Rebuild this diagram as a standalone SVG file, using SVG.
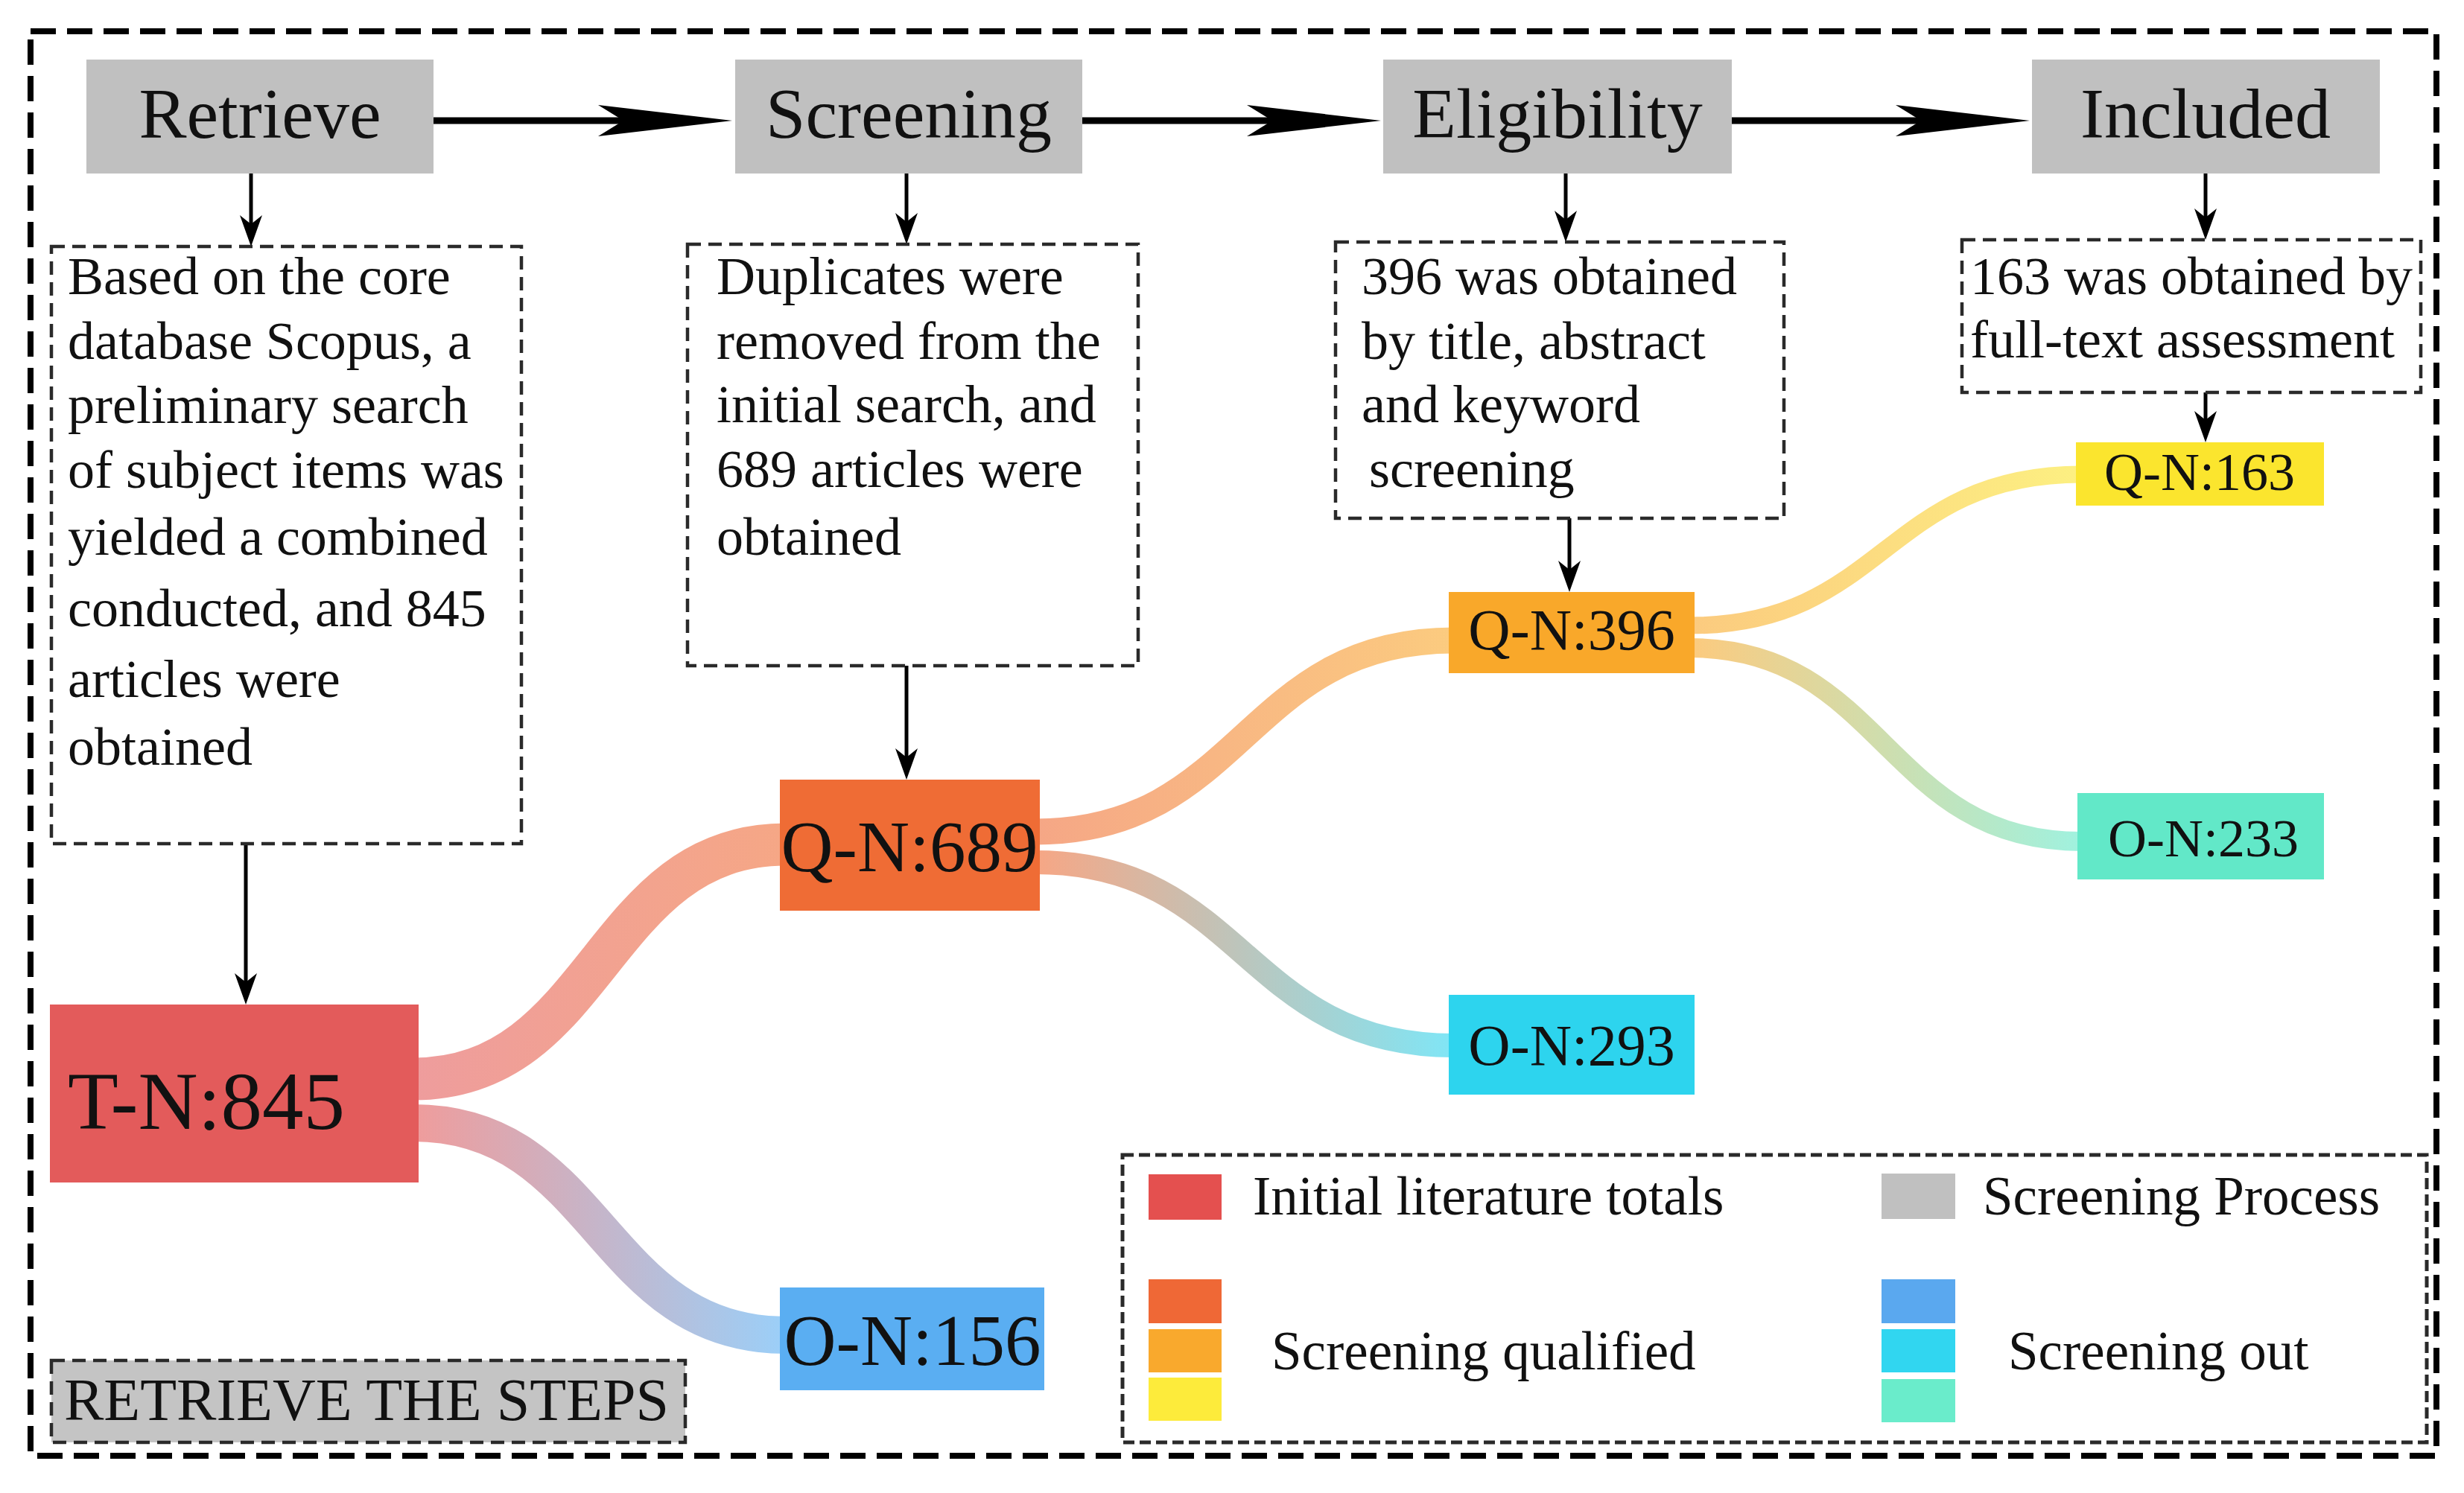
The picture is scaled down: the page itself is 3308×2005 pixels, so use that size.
<svg xmlns="http://www.w3.org/2000/svg" width="3308" height="2005" viewBox="0 0 3308 2005">
<style>
text{font-family:"Liberation Serif","Times New Roman",serif;fill:#111}
.hdr{fill:#c0c0c0}
.hdrt{font-size:96px;text-anchor:middle}
.note{fill:none;stroke:#2a2a2a;stroke-width:4.5;stroke-dasharray:18 10}
.nt{font-size:72px}
.nd{text-anchor:middle}
.flow{fill:none;stroke-opacity:0.6}
.harrow{stroke:#000;stroke-width:9;fill:none}
.varrow{stroke:#000;stroke-width:5;fill:none}
.lg{font-size:73px}
</style>
<defs>
<marker id="bigHead" markerUnits="userSpaceOnUse" markerWidth="180" markerHeight="42" refX="60" refY="21" orient="auto" overflow="visible">
<path d="M0,0 L180,21 L0,42 L34,21 Z" fill="#000"/>
</marker>
<marker id="smallHead" markerUnits="userSpaceOnUse" markerWidth="42" markerHeight="30" refX="20" refY="15" orient="auto" overflow="visible">
<path d="M0,0 L42,15 L0,30 L12,15 Z" fill="#000"/>
</marker>
<linearGradient id="g1" gradientUnits="userSpaceOnUse" x1="562" y1="0" x2="1047" y2="0"><stop offset="0" stop-color="#e35b5b"/><stop offset="1" stop-color="#ef6c35"/></linearGradient>
<linearGradient id="g2" gradientUnits="userSpaceOnUse" x1="562" y1="0" x2="1047" y2="0"><stop offset="0" stop-color="#e35b5b"/><stop offset="1" stop-color="#5aaef2"/></linearGradient>
<linearGradient id="g3" gradientUnits="userSpaceOnUse" x1="1396" y1="0" x2="1945" y2="0"><stop offset="0" stop-color="#ef6c35"/><stop offset="1" stop-color="#f9a82a"/></linearGradient>
<linearGradient id="g4" gradientUnits="userSpaceOnUse" x1="1396" y1="0" x2="1945" y2="0"><stop offset="0" stop-color="#ef6c35"/><stop offset="1" stop-color="#2dd4ee"/></linearGradient>
<linearGradient id="g5" gradientUnits="userSpaceOnUse" x1="2275" y1="0" x2="2787" y2="0"><stop offset="0" stop-color="#f9a82a"/><stop offset="1" stop-color="#fbe52e"/></linearGradient>
<linearGradient id="g6" gradientUnits="userSpaceOnUse" x1="2275" y1="0" x2="2789" y2="0"><stop offset="0" stop-color="#f9a82a"/><stop offset="1" stop-color="#62e8c8"/></linearGradient>
</defs>
<rect width="3308" height="2005" fill="#fff"/>
<rect id="frame" x="41" y="42" width="3230" height="1913" fill="none" stroke="#000" stroke-width="8" stroke-dasharray="34 15"/>

<g id="connectors">
<path class="flow" d="M555,1449 C805,1449 805,1134 1055,1134" stroke="url(#g1)" stroke-width="57"/>
<path class="flow" d="M555,1508 C805,1508 805,1793 1055,1793" stroke="url(#g2)" stroke-width="50"/>
<path class="flow" d="M1390,1117 C1670,1117 1670,860 1952,860" stroke="url(#g3)" stroke-width="35"/>
<path class="flow" d="M1390,1158 C1670,1158 1670,1404 1952,1404" stroke="url(#g4)" stroke-width="32"/>
<path class="flow" d="M2268,840 C2530,840 2530,637 2795,637" stroke="url(#g5)" stroke-width="23"/>
<path class="flow" d="M2268,870 C2530,870 2530,1130 2795,1130" stroke="url(#g6)" stroke-width="26"/>
<line class="harrow" x1="582" y1="162" x2="863" y2="162" marker-end="url(#bigHead)"/>
<line class="harrow" x1="1453" y1="162" x2="1734" y2="162" marker-end="url(#bigHead)"/>
<line class="harrow" x1="2325" y1="162" x2="2605" y2="162" marker-end="url(#bigHead)"/>
<line class="varrow" x1="337" y1="233" x2="337" y2="309" marker-end="url(#smallHead)"/>
<line class="varrow" x1="330" y1="1133" x2="330" y2="1327" marker-end="url(#smallHead)"/>
<line class="varrow" x1="1217" y1="233" x2="1217" y2="306" marker-end="url(#smallHead)"/>
<line class="varrow" x1="1217" y1="894" x2="1217" y2="1025" marker-end="url(#smallHead)"/>
<line class="varrow" x1="2102" y1="233" x2="2102" y2="303" marker-end="url(#smallHead)"/>
<line class="varrow" x1="2107" y1="696" x2="2107" y2="773" marker-end="url(#smallHead)"/>
<line class="varrow" x1="2961" y1="233" x2="2961" y2="300" marker-end="url(#smallHead)"/>
<line class="varrow" x1="2961" y1="527" x2="2961" y2="572" marker-end="url(#smallHead)"/>
</g>

<g id="step-retrieve"><rect class="hdr" x="116" y="80" width="466" height="153"/><text class="hdrt" x="349" y="185">Retrieve</text></g>
<g id="step-screening"><rect class="hdr" x="987" y="80" width="466" height="153"/><text class="hdrt" x="1220" y="185">Screening</text></g>
<g id="step-eligibility"><rect class="hdr" x="1857" y="80" width="468" height="153"/><text class="hdrt" x="2091" y="185">Eligibility</text></g>
<g id="step-included"><rect class="hdr" x="2728" y="80" width="467" height="153"/><text class="hdrt" x="2961" y="185">Included</text></g>

<g id="note-retrieve">
<rect class="note" x="69" y="331" width="631" height="802"/>
<text class="nt" x="91" y="395">Based on the core</text>
<text class="nt" x="91" y="482">database Scopus, a</text>
<text class="nt" x="91" y="568">preliminary search</text>
<text class="nt" x="91" y="655">of subject items was</text>
<text class="nt" x="91" y="745">yielded a combined</text>
<text class="nt" x="91" y="841">conducted, and 845</text>
<text class="nt" x="91" y="936">articles were</text>
<text class="nt" x="91" y="1027">obtained</text>
</g>
<g id="note-screening">
<rect class="note" x="923" y="328" width="605" height="566"/>
<text class="nt" x="962" y="395">Duplicates were</text>
<text class="nt" x="962" y="482">removed from the</text>
<text class="nt" x="962" y="567">initial search, and</text>
<text class="nt" x="962" y="654">689 articles were</text>
<text class="nt" x="962" y="745">obtained</text>
</g>
<g id="note-eligibility">
<rect class="note" x="1793" y="325" width="602" height="371"/>
<text class="nt" x="1828" y="395">396 was obtained</text>
<text class="nt" x="1828" y="482">by title, abstract</text>
<text class="nt" x="1828" y="567">and keyword</text>
<text class="nt" x="1838" y="654">screening</text>
</g>
<g id="note-included">
<rect class="note" x="2634" y="322" width="616" height="205"/>
<text class="nt" x="2645" y="395">163 was obtained by</text>
<text class="nt" x="2645" y="480">full-text assessment</text>
</g>

<g id="node-tn845"><rect x="67" y="1349" width="495" height="239" fill="#e35b5b"/><text x="91" y="1516" font-size="111">T-N:845</text></g>
<g id="node-qn689"><rect x="1047" y="1047" width="349" height="176" fill="#ef6c35"/><text class="nd" x="1221" y="1170" font-size="97">Q-N:689</text></g>
<g id="node-on156"><rect x="1047" y="1729" width="355" height="138" fill="#5aaef2"/><text class="nd" x="1225" y="1833" font-size="97">O-N:156</text></g>
<g id="node-qn396"><rect x="1945" y="795" width="330" height="109" fill="#f9a82a"/><text class="nd" x="2110" y="872" font-size="78">Q-N:396</text></g>
<g id="node-on293"><rect x="1945" y="1336" width="330" height="134" fill="#2dd4ee"/><text class="nd" x="2110" y="1430" font-size="78">O-N:293</text></g>
<g id="node-qn163"><rect x="2787" y="594" width="333" height="85" fill="#fbe52e"/><text class="nd" x="2953" y="658" font-size="72">Q-N:163</text></g>
<g id="node-on233"><rect x="2789" y="1065" width="331" height="116" fill="#62e8c8"/><text class="nd" x="2958" y="1150" font-size="72">O-N:233</text></g>

<g id="label-steps">
<rect x="69" y="1827" width="851" height="110" fill="#c4c4c4" stroke="#2a2a2a" stroke-width="4.5" stroke-dasharray="18 10"/>
<text x="86" y="1907" font-size="80">RETRIEVE THE STEPS</text>
</g>

<g id="legend">
<rect x="1507" y="1551" width="1751" height="386" fill="none" stroke="#2a2a2a" stroke-width="5" stroke-dasharray="15 7"/>
<rect x="1542" y="1577" width="98" height="61" fill="#e4504f"/>
<text class="lg" x="1682" y="1631">Initial literature totals</text>
<rect x="2526" y="1576" width="99" height="61" fill="#c0c0c0"/>
<text class="lg" x="2662" y="1631">Screening Process</text>
<rect x="1542" y="1718" width="98" height="59" fill="#ef6836"/>
<rect x="1542" y="1785" width="98" height="58" fill="#f9a92d"/>
<rect x="1542" y="1850" width="98" height="58" fill="#fdeb3b"/>
<text class="lg" x="1707" y="1839">Screening qualified</text>
<rect x="2526" y="1718" width="99" height="59" fill="#5aa8ef"/>
<rect x="2526" y="1785" width="99" height="58" fill="#31d6f0"/>
<rect x="2526" y="1852" width="99" height="58" fill="#6aeccb"/>
<text class="lg" x="2696" y="1839">Screening out</text>
</g>
</svg>
